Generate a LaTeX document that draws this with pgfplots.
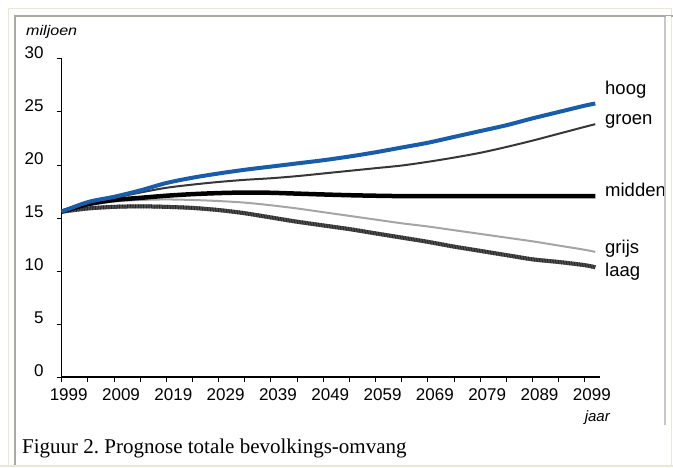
\documentclass[border=0pt]{standalone}
\usepackage{fontspec}
\setmainfont{Liberation Sans}
\newfontfamily\capfont{Liberation Serif}
\usepackage{graphicx}
\usepackage{pgfplots}
\pgfplotsset{compat=1.18}
\definecolor{hoogc}{RGB}{25,92,170}
\definecolor{groenc}{RGB}{55,55,55}
\definecolor{grijsc}{RGB}{165,165,165}
\definecolor{laagc}{RGB}{95,95,95}
\definecolor{beigec}{RGB}{236,230,212}
\definecolor{framec}{RGB}{172,170,160}

\pgfplotstableread{
year val
1999 15.6
2004 16.5
2009 17.0
2014 17.6
2019 18.3
2024 18.8
2029 19.2
2034 19.55
2039 19.85
2044 20.15
2049 20.45
2054 20.8
2059 21.2
2064 21.65
2069 22.1
2074 22.65
2079 23.2
2084 23.75
2089 24.4
2094 25.0
2099 25.6
2101 25.8
}\hoog

\pgfplotstableread{
year val
1999 15.6
2004 16.45
2009 16.9
2014 17.4
2019 17.85
2024 18.15
2029 18.4
2034 18.6
2039 18.75
2044 18.95
2049 19.2
2054 19.45
2059 19.7
2064 19.95
2069 20.3
2074 20.7
2079 21.15
2084 21.7
2089 22.3
2094 22.95
2099 23.6
2101 23.85
}\groen

\pgfplotstableread{
year val
1999 15.6
2004 16.3
2009 16.7
2014 16.9
2019 17.1
2024 17.25
2029 17.35
2034 17.4
2039 17.38
2044 17.3
2049 17.22
2054 17.15
2059 17.1
2064 17.07
2079 17.07
2101 17.07
}\midden

\pgfplotstableread{
year val
1999 15.6
2004 16.2
2009 16.55
2014 16.7
2019 16.75
2024 16.7
2029 16.6
2034 16.45
2039 16.2
2044 15.9
2049 15.55
2054 15.2
2059 14.85
2064 14.5
2069 14.2
2074 13.85
2079 13.5
2084 13.15
2089 12.8
2094 12.4
2099 12.0
2101 11.8
}\grijs

\pgfplotstableread{
year val
1999 15.6
2004 15.9
2009 16.05
2014 16.1
2019 16.05
2024 15.95
2029 15.75
2034 15.45
2039 15.05
2044 14.65
2049 14.3
2054 13.95
2059 13.55
2064 13.15
2069 12.75
2074 12.3
2079 11.9
2084 11.5
2089 11.1
2094 10.85
2099 10.55
2101 10.35
}\laag

\begin{document}
\frenchspacing
\begin{tikzpicture}[x=1pt,y=1pt]
\useasboundingbox (0,0) rectangle (673,467);
\fill[white] (0,0) rectangle (673,467);
\draw[beigec, line width=1pt] (8.5,2) -- (8.5,458.5) -- (671.5,458.5) -- (671.5,2);
\fill[beigec] (0,0) rectangle (673,2);
\draw[framec, line width=2pt] (15,2) -- (15,451) -- (673,451);

\begin{axis}[
  at={(61.7pt,90pt)}, anchor=south west,
  scale only axis, width=538.3pt, height=318pt,
  xmin=1999, xmax=2101.9, ymin=0, ymax=30,
  axis x line*=bottom, axis y line*=left,
  axis line style={line width=1.5pt, black},
  xtick={1999,2009,...,2099},
  minor xtick={2004,2014,...,2094},
  ytick={0,5,...,30},
  tick align=outside,
  major tick length=5pt, minor tick length=5pt,
  every tick/.style={black, line width=1pt},
  minor tick style={black, line width=1pt},
  xticklabel style={font=\fontsize{17}{17}\selectfont, anchor=north, inner sep=0pt, xshift=7pt, yshift=-6pt},
  yticklabel style={font=\fontsize{17}{17}\selectfont, anchor=east, inner sep=0pt, xshift=-13pt, yshift=6pt},
  /pgf/number format/1000 sep={},
  /pgf/number format/assume math mode=true,
  clip=false,
]
\addplot[laagc, line width=4pt, smooth] table[x=year,y=val] {\laag};
\addplot[black!85, line width=4pt, dash pattern=on 0.8pt off 0.8pt, smooth] table[x=year,y=val] {\laag};
\addplot[grijsc, line width=2pt, smooth] table[x=year,y=val] {\grijs};
\addplot[black, line width=4.5pt, smooth] table[x=year,y=val] {\midden};
\addplot[groenc, line width=2pt, smooth] table[x=year,y=val] {\groen};
\addplot[hoogc, line width=4pt, smooth] table[x=year,y=val] {\hoog};
\end{axis}

\node[anchor=west, inner sep=0pt] at (26,435) {\scalebox{1.15}[1]{\fontsize{14}{14}\selectfont\itshape miljoen}};
\node[anchor=east, inner sep=0pt] at (610,49.5) {\fontsize{15}{15}\selectfont\itshape jaar};
\begin{scope}[every node/.style={anchor=base west, inner sep=0pt, font=\fontsize{18.5}{18.5}\selectfont}]
\node at (605,372) {hoog};
\node at (605,342) {groen};
\node at (605,270.3) {midden};
\node at (605,214) {grijs};
\node at (605,191) {laag};
\end{scope}
\fill[white] (665.8,42) rectangle (671,451);
\draw[black!22, line width=1.5pt] (665,450) -- (665,42);
\node[anchor=base west, inner sep=0pt] at (22,14) {\capfont\fontsize{21}{21}\selectfont Figuur 2. Prognose totale bevolkings-omvang};
\end{tikzpicture}
\end{document}
